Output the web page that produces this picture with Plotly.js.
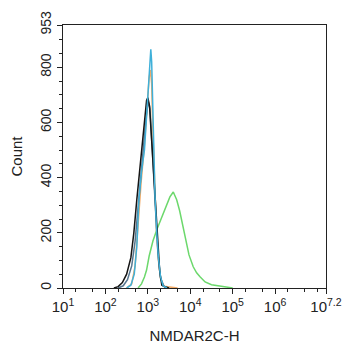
<!DOCTYPE html>
<html><head><meta charset="utf-8">
<script src="https://cdn.plot.ly/plotly-3.0.1.min.js"></script>
<style>html,body{margin:0;padding:0;background:#fff}#chart{width:342px;height:350px}</style>
</head><body><div id="chart"></div>
<script>
// exponents (log10 of intensity) and counts
const blackExp = [2.2,2.3,2.4,2.5,2.6,2.67,2.74,2.8,2.86,2.92,2.97,3.0,3.04,3.08,3.13,3.17,3.21,3.24,3.28,3.33,3.4,3.5];
const blackCnt = [0,5,20,50,110,200,320,420,500,610,680,690,660,560,430,320,200,140,60,10,4,0];
const slateExp = [2.3,2.42,2.52,2.62,2.7,2.77,2.84,2.9,2.96,3.01,3.05,3.09,3.14,3.19,3.24,3.3,3.38,3.5];
const slateCnt = [0,8,30,80,170,290,400,510,620,675,650,540,390,240,120,35,6,0];
const orangeExp = [2.5,2.62,2.7,2.77,2.84,2.92,2.98,3.03,3.06,3.09,3.12,3.16,3.2,3.25,3.3,3.38,3.5,3.6,3.7];
const orangeCnt = [0,15,80,250,380,520,660,760,790,740,560,360,220,100,35,6,3,2,0];
const blueExp = [2.5,2.6,2.68,2.74,2.79,2.85,2.92,2.98,3.03,3.07,3.09,3.11,3.13,3.17,3.21,3.25,3.3,3.36,3.45];
const blueCnt = [0,10,50,150,320,420,500,640,780,865,820,680,500,330,200,110,40,8,0];
const greenExp = [2.77,2.85,2.92,2.97,3.03,3.12,3.22,3.32,3.42,3.52,3.6,3.68,3.75,3.82,3.9,3.97,4.07,4.15,4.23,4.35,4.5,4.7,4.9,5.0];
const greenCnt = [0,15,40,65,115,170,215,255,295,330,348,320,280,230,170,120,77,55,41,22,12,8,4,0];

const xTickExp = [1,2,3,4,5,6,7.2];
const xTickText = ['10<sup>1</sup>','10<sup>2</sup>','10<sup>3</sup>','10<sup>4</sup>','10<sup>5</sup>','10<sup>6</sup>','10<sup>7.2</sup>'];
const yTicks = [0,200,400,600,800,953];

const toX = e => e.map(v => Math.pow(10, v));
function tr(ex, cnt, color){
  return {x: toX(ex), y: cnt, type:'scatter', mode:'lines', line:{color:color, width:1.5}, hoverinfo:'skip'};
}
const data = [
  tr(greenExp, greenCnt, '#6cd86c'),
  tr(orangeExp, orangeCnt, '#f2aa66'),
  tr(slateExp, slateCnt, '#56768f'),
  tr(blackExp, blackCnt, '#151515'),
  tr(blueExp, blueCnt, '#3fb0d9')
];
const fam = 'Liberation Sans, Arial, sans-serif';
const layout = {
  width:342, height:350,
  margin:{l:63, r:16, t:25, b:62, autoexpand:false},
  showlegend:false,
  paper_bgcolor:'#fff', plot_bgcolor:'#fff',
  font:{family:fam, size:14, color:'#222'},
  xaxis:{
    type:'log', range:[1,7.2], showgrid:false, zeroline:false, automargin:false,
    showline:true, linecolor:'#222', linewidth:1, mirror:true,
    ticks:'outside', ticklen:5, tickcolor:'#222',
    tickvals: toX(xTickExp), ticktext: xTickText,
    ticklabeloverflow:'allow',
    tickfont:{family:fam, size:15, color:'#222'},
    minor:{ticks:'outside', ticklen:3, tickcolor:'#222', showgrid:false},
    title:{text:'NMDAR2C-H', font:{family:fam, size:15, color:'#222'}, standoff:16}
  },
  yaxis:{
    range:[0,953], showgrid:false, zeroline:false, automargin:false,
    showline:true, linecolor:'#222', linewidth:1, mirror:true,
    ticks:'outside', ticklen:5, tickcolor:'#222',
    tickvals: yTicks, tickangle:-90,
    tickfont:{family:fam, size:14, color:'#222'},
    minor:{ticks:'outside', ticklen:3, dtick:50, tickcolor:'#222', showgrid:false},
    title:{text:'Count', font:{family:fam, size:15, color:'#222'}, standoff:12}
  }
};
Plotly.newPlot('chart', data, layout, {staticPlot:true, displayModeBar:false});
</script></body></html>
